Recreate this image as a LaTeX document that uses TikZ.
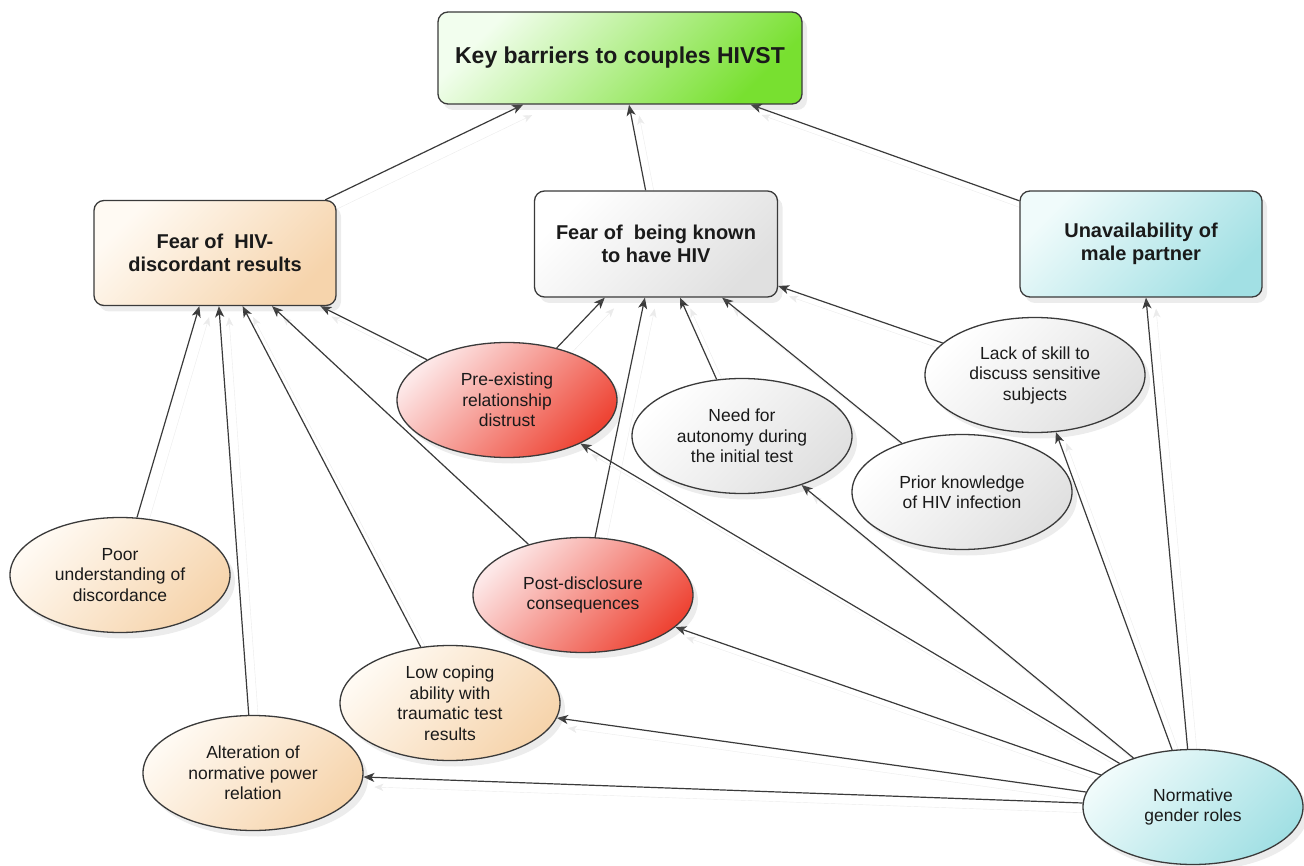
\documentclass[tikz,border=0pt]{standalone}
\usepackage{fontspec}
\setmainfont{Liberation Sans}
\usetikzlibrary{shapes.geometric,shadows,arrows.meta,backgrounds}
\definecolor{lineC}{HTML}{3A3A3A}
\definecolor{textC}{HTML}{1A1A1A}
\definecolor{greenA}{HTML}{F2FEEE}
\definecolor{greenM}{HTML}{E0FAD4}
\definecolor{greenB}{HTML}{78E030}
\definecolor{peachA}{HTML}{FFFAF3}
\definecolor{peachM}{HTML}{FCEEDD}
\definecolor{peachB}{HTML}{F6D4AC}
\definecolor{grayA}{HTML}{FFFFFF}
\definecolor{grayM}{HTML}{F6F6F6}
\definecolor{grayB}{HTML}{E0E0E0}
\definecolor{cyanA}{HTML}{F0FBFB}
\definecolor{cyanM}{HTML}{D9F3F4}
\definecolor{cyanB}{HTML}{A2E0E4}
\definecolor{redA}{HTML}{FDE8E8}
\definecolor{redM}{HTML}{F8B4AC}
\definecolor{redB}{HTML}{EE4434}
\tikzset{
	box/.style={draw=lineC, line width=1.3pt, rounded corners=10pt, align=center, text=textC,
		font=\bfseries\fontsize{20}{23}\selectfont,
		drop shadow={shadow xshift=5pt, shadow yshift=-6pt, opacity=0.15}},
	oval/.style={ellipse, draw=lineC, line width=1.3pt, minimum width=220pt, minimum height=115pt,
		inner sep=0pt, align=center, text=textC, font=\fontsize{17.5}{20.5}\selectfont,
		drop shadow={shadow xshift=5pt, shadow yshift=-6pt, opacity=0.15}},
	shade/.style n args={3}{top color=#1, middle color=#2, bottom color=#3, shading angle=45},
	link/.style={->, draw=lineC, line width=1.2pt,
		preaction={draw=black!8, transform canvas={shift={(10pt,-10pt)}}}}
}
\begin{document}
\begin{tikzpicture}[x=1pt,y=-1pt,>={Stealth[length=11pt,width=9pt,inset=3pt]}]
	\useasboundingbox (0,0) rectangle (1304,866);
	% main boxes
	\node[box, shade={greenA}{greenM}{greenB}, minimum width=364pt, minimum height=92pt, font=\bfseries\fontsize{23}{27}\selectfont] (key) at (620,58) {Key barriers to couples HIVST};
	\node[box, shade={peachA}{peachM}{peachB}, minimum width=242pt, minimum height=105pt] (fdisc) at (215,253) {Fear of \ HIV-\\discordant results};
	\node[box, shade={grayA}{grayM}{grayB}, minimum width=243pt, minimum height=106pt] (fknown) at (656,244) {Fear of \ being known\\to have HIV};
	\node[box, shade={cyanA}{cyanM}{cyanB}, minimum width=242pt, minimum height=106pt] (unav) at (1141,244) {Unavailability of\\male partner};
	% causes
	\node[oval, shade={redA}{redM}{redB}] (distrust) at (507,400) {Pre-existing\\relationship\\distrust};
	\node[oval, shade={grayA}{grayM}{grayB}] (autonomy) at (742,436) {Need for\\autonomy during\\the initial test};
	\node[oval, shade={redA}{redM}{redB}] (postdisc) at (583,595) {Post-disclosure\\consequences};
	\node[oval, shade={grayA}{grayM}{grayB}] (skill) at (1035,375) {Lack of skill to\\discuss sensitive\\subjects};
	\node[oval, shade={grayA}{grayM}{grayB}] (prior) at (962,492) {Prior knowledge\\of HIV infection};
	\node[oval, shade={peachA}{peachM}{peachB}] (poor) at (120,575) {Poor\\understanding of\\discordance};
	\node[oval, shade={peachA}{peachM}{peachB}] (coping) at (450,703) {Low coping\\ability with\\traumatic test\\results};
	\node[oval, shade={peachA}{peachM}{peachB}] (alter) at (253,773) {Alteration of\\normative power\\relation};
	\node[oval, shade={cyanA}{cyanM}{cyanB}] (roles) at (1193,807) {Normative\\gender roles};
	\begin{pgfonlayer}{background}
		\draw[link] (fdisc) -- (key);
		\draw[link] (fknown) -- (key);
		\draw[link] (unav) -- (key);
		\draw[link] (poor) -- (fdisc);
		\draw[link] (alter) -- (fdisc);
		\draw[link] (coping) -- (fdisc);
		\draw[link] (postdisc) -- (fdisc);
		\draw[link] (distrust) -- (fdisc);
		\draw[link] (distrust) -- (fknown);
		\draw[link] (postdisc) -- (fknown);
		\draw[link] (autonomy) -- (fknown);
		\draw[link] (prior) -- (fknown);
		\draw[link] (skill) -- (fknown);
		\draw[link] (roles) -- (unav);
		\draw[link] (roles) -- (skill);
		\draw[link] (roles) -- (autonomy);
		\draw[link] (roles) -- (distrust);
		\draw[link] (roles) -- (postdisc);
		\draw[link] (roles) -- (coping);
		\draw[link] (roles) -- (alter);
	\end{pgfonlayer}
\end{tikzpicture}
\end{document}
